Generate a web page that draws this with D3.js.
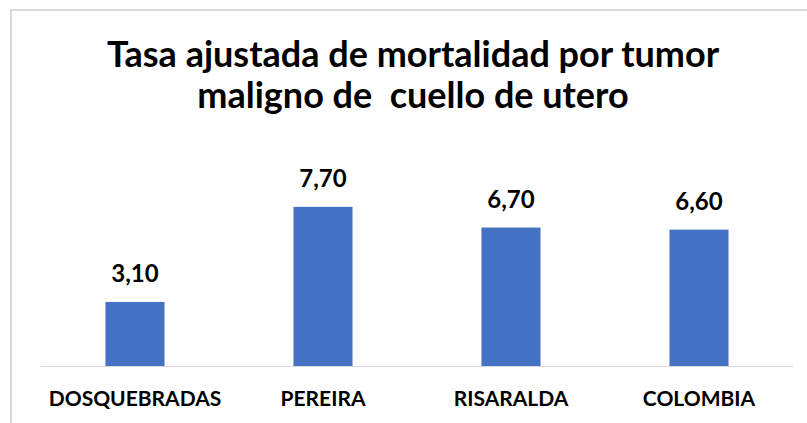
<!DOCTYPE html>
<html>
<head>
<meta charset="utf-8">
<script src="https://cdn.jsdelivr.net/npm/d3@7"></script>
<style>
  body { margin: 0; background: #fff; }
  svg { display: block; }
  text { font-family: Lato, "Open Sans", sans-serif; font-weight: 700; fill: #000; }
</style>
</head>
<body>
<svg id="chart_svg" width="807" height="423"></svg>
<script>
// data
var categories = ['DOSQUEBRADAS', 'PEREIRA', 'RISARALDA', 'COLOMBIA'];
var values = [3.10, 7.70, 6.70, 6.60];
var titleLines = ['Tasa ajustada de mortalidad por tumor', 'maligno de  cuello de utero'];

var svg = d3.select('#chart_svg');

// chart area frame (runs off the right/bottom of the picture)
svg.append('rect')
  .attr('x', 11)
  .attr('y', 10)
  .attr('width', 820)
  .attr('height', 430)
  .attr('fill', '#fff')
  .attr('stroke', '#d9d9d9')
  .attr('stroke-width', 2);

var x = d3.scaleBand()
  .domain(categories)
  .range([41, 793])
  .paddingInner(0.686)
  .paddingOuter(0.343);

var y = d3.scaleLinear()
  .domain([0, 9])
  .range([366, 180]);

// title
svg.append('text')
  .attr('text-anchor', 'middle')
  .style('font-size', '36px')
  .selectAll('tspan')
  .data(titleLines)
  .enter()
  .append('tspan')
  .attr('x', 413)
  .attr('y', (_, i) => 67 + i * 41)
  .style('white-space', 'pre')
  .text(d => d);

// bars
svg.selectAll('.bar')
  .data(values)
  .enter()
  .append('rect')
  .attr('class', 'bar')
  .attr('x', (d, i) => x(categories[i]))
  .attr('y', d => y(d))
  .attr('width', x.bandwidth())
  .attr('height', d => y(0) - y(d))
  .attr('fill', '#4472c4');

// baseline
svg.append('line')
  .attr('x1', 41)
  .attr('x2', 793)
  .attr('y1', y(0) + 0.5)
  .attr('y2', y(0) + 0.5)
  .attr('stroke', '#d9d9d9')
  .attr('stroke-width', 1);

// value labels
svg.selectAll('.valueLabel')
  .data(values)
  .enter()
  .append('text')
  .attr('class', 'valueLabel')
  .attr('text-anchor', 'middle')
  .attr('x', (d, i) => x(categories[i]) + x.bandwidth() / 2)
  .attr('y', d => y(d) - 20)
  .style('font-size', '24px')
  .text(d => d.toFixed(2).replace('.', ','));

// category labels
svg.selectAll('.catLabel')
  .data(categories)
  .enter()
  .append('text')
  .attr('class', 'catLabel')
  .attr('text-anchor', 'middle')
  .attr('x', d => x(d) + x.bandwidth() / 2)
  .attr('y', 406)
  .style('font-size', '21px')
  .text(d => d);
</script>
</body>
</html>
